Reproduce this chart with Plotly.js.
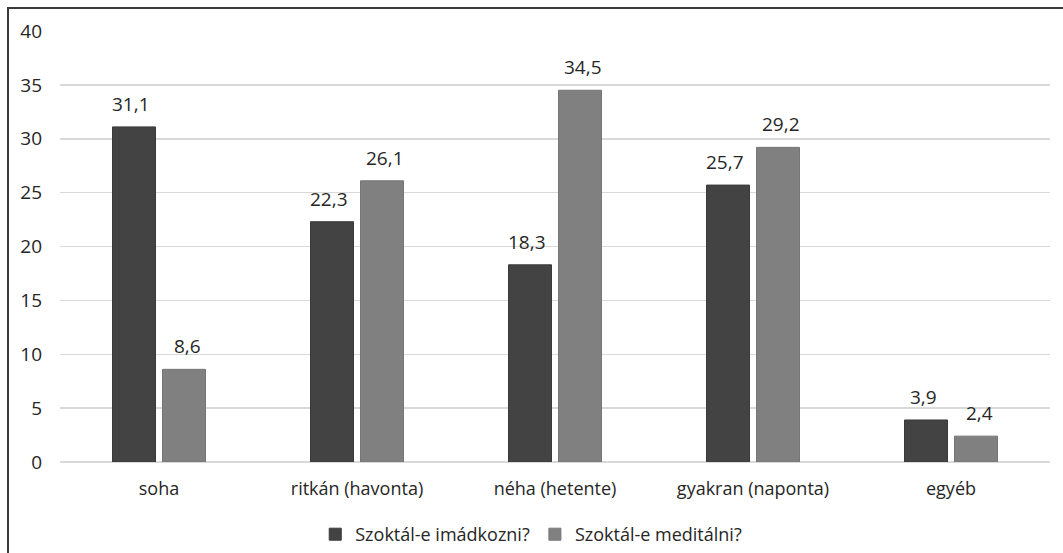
<!DOCTYPE html>
<html>
<head>
<meta charset="utf-8">
<script src="https://cdn.plot.ly/plotly-3.0.1.min.js"></script>
<style>
  html, body { margin: 0; padding: 0; background: #fff; }
  #wrap { position: relative; width: 1063px; height: 553px; overflow: hidden; }
  #chart { position: absolute; left: 0; top: 0; width: 1063px; height: 553px; }
  #frame { position: absolute; left: 7px; top: 7px; width: 1100px; height: 600px;
           border-left: 2px solid #3a3a3a; border-top: 2px solid #3a3a3a; pointer-events: none; }
</style>
</head>
<body>
<div id="wrap">
  <div id="chart"></div>
  <div id="frame"></div>
</div>
<script>
const categories = ["soha", "ritkán (havonta)", "néha (hetente)", "gyakran (naponta)", "egyéb"];
const seriesNames = ["Szoktál-e imádkozni?", "Szoktál-e meditálni?"];
const prayValues = [31.1, 22.3, 18.3, 25.7, 3.9];
const meditateValues = [8.6, 26.1, 34.5, 29.2, 2.4];
const yTicks = [0, 5, 10, 15, 20, 25, 30, 35, 40];

const fmt = v => v.toFixed(1).replace('.', ',');
const fontFam = "'Open Sans', sans-serif";
const txtColor = '#262626';

const traces = [
  {
    type: 'bar', name: seriesNames[0], x: categories, y: prayValues,
    marker: { color: '#434343', line: { color: '#3a3a3a', width: 1 } }
  },
  {
    type: 'bar', name: seriesNames[1], x: categories, y: meditateValues,
    marker: { color: '#808080', line: { color: '#767676', width: 1 } }
  }
];

const annotations = [];
[prayValues, meditateValues].forEach((vals, si) => {
  vals.forEach((v, i) => {
    annotations.push({
      x: categories[i], y: v, xref: 'x', yref: 'y',
      text: fmt(v), showarrow: false, yanchor: 'bottom',
      xshift: si === 0 ? -28 : 28, yshift: 8,
      font: { family: fontFam, size: 19, color: txtColor }
    });
  });
});

const layout = {
  width: 1063, height: 553,
  margin: { l: 60, r: 13, t: 31, b: 91 },
  paper_bgcolor: '#fff', plot_bgcolor: '#fff',
  barmode: 'group', bargap: 0.495, bargroupgap: 0.14,
  separators: ',.',
  font: { family: fontFam, size: 18, color: txtColor },
  showlegend: true,
  legend: {
    orientation: 'h', x: 0.476, xanchor: 'center', yref: 'container', y: 0.0, yanchor: 'bottom',
    font: { family: fontFam, size: 18, color: txtColor }, itemwidth: 30, traceorder: 'normal',
    tracegroupgap: 0
  },
  annotations: annotations,
  xaxis: {
    type: 'category', showgrid: false, showline: false, ticks: '', automargin: false,
    tickfont: { family: fontFam, size: 18, color: txtColor }, ticklabelstandoff: 14
  },
  yaxis: {
    range: [0, 40], tickvals: yTicks, ticktext: yTicks.map(String), automargin: false,
    showgrid: true, gridcolor: '#d9d9d9', gridwidth: 1.5,
    zeroline: true, zerolinecolor: '#d9d9d9', zerolinewidth: 1.5,
    showline: false, ticks: '',
    tickfont: { family: fontFam, size: 19, color: txtColor }, ticklabelstandoff: 17
  }
};

Plotly.newPlot('chart', traces, layout, { displayModeBar: false, staticPlot: true });
</script>
</body>
</html>
